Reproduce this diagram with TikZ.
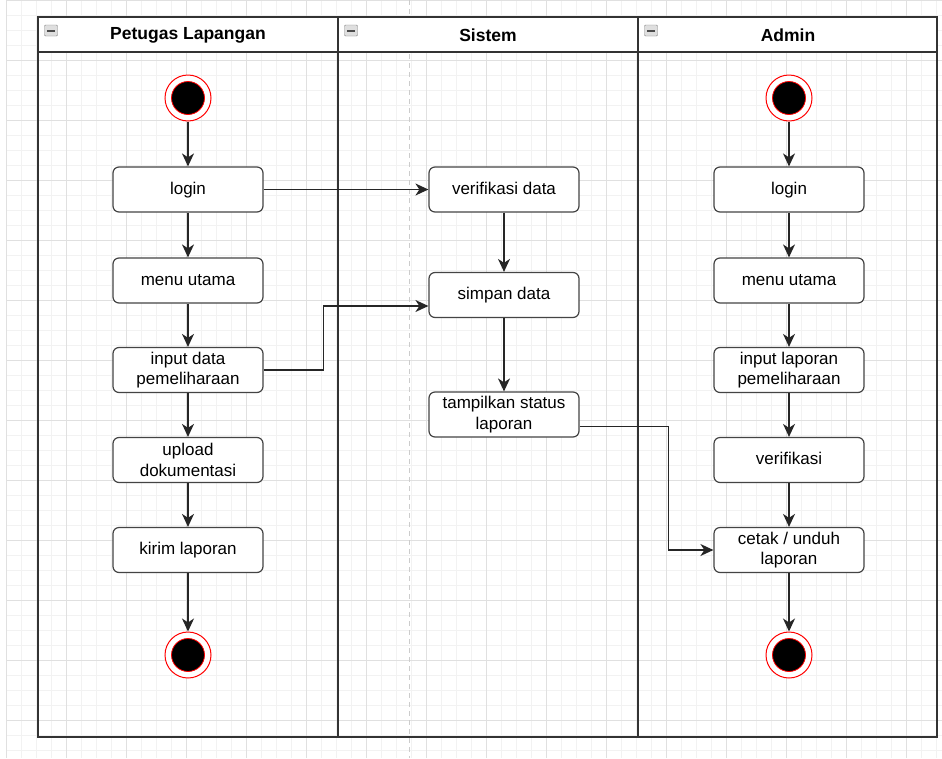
\documentclass[tikz,border=0pt]{standalone}
\usepackage{fontspec}
\setmainfont{Liberation Sans}
\usetikzlibrary{arrows.meta,calc}
\definecolor{gridminor}{HTML}{F2F2F2}
\definecolor{gridmajor}{HTML}{E0E0E0}
\definecolor{lanecol}{HTML}{333333}
\definecolor{boxcol}{HTML}{444444}
\begin{document}
\begin{tikzpicture}[x=1pt,y=-1pt,
  act/.style={draw=boxcol, line width=1.2pt, rounded corners=6pt, fill=white,
    minimum width=150pt, minimum height=45pt, align=center, inner sep=0pt,
    font=\fontsize{17}{20.5}\selectfont},
  one/.style={text height=12.5pt, text depth=3.5pt},
  arr/.style={draw=black!85, line width=1.3pt, -{Stealth[length=13pt,width=12pt,inset=4pt]}},
  ring/.style={circle, draw=red, line width=1pt, fill=white, minimum size=46pt, inner sep=0pt},
  dot/.style={circle, draw=red, line width=0.8pt, fill=black, minimum size=33pt, inner sep=0pt},
  lanetitle/.style={font=\fontsize{17.5}{20}\selectfont\bfseries},
  minusbox/.style={draw=gray, fill=gray!25, minimum width=13pt, minimum height=11pt, inner sep=0pt, rounded corners=1pt}
]
\useasboundingbox (0,0) rectangle (942,758);
\fill[white] (0,0) rectangle (942,758);
% grid
\foreach \i in {0,...,62} \draw[gridminor, line width=0.8pt] ({6+15*\i},0) -- ({6+15*\i},758);
\foreach \j in {0,...,50} \draw[gridminor, line width=0.8pt] (6,{15*\j}) -- (942,{15*\j});
\foreach \i in {0,...,15} \draw[gridmajor, line width=0.8pt] ({6+60*\i},0) -- ({6+60*\i},758);
\foreach \j in {0,...,12} \draw[gridmajor, line width=0.8pt] (6,{60*\j}) -- (942,{60*\j});
% page break line
\draw[gray!40, line width=1pt, dash pattern=on 5pt off 4pt] (409,0) -- (409,758);
% lanes
\fill[white] (38,17) rectangle (937,52);
\draw[lanecol, line width=1.8pt] (38,17) rectangle (937,737);
\draw[lanecol, line width=1.8pt] (38,52) -- (937,52);
\draw[lanecol, line width=1.8pt] (338,17) -- (338,737);
\draw[lanecol, line width=1.8pt] (638,17) -- (638,737);
\node[lanetitle] (t1) at (188,35) {Petugas Lapangan};
\node[lanetitle] (t2) at (488,35) {Sistem};
\node[lanetitle] (t3) at (788,35) {Admin};
\foreach \xx/\nm in {51/m1,351/m2,651/m3}{
  \node[minusbox] (\nm) at (\xx,30.5) {};
  \draw[black!70, line width=2pt] ($(\nm.center)+(-4,0)$) -- ($(\nm.center)+(4,0)$);
}
% Petugas Lapangan
\node[ring] (s1) at (188,98) {};
\node[dot] (s1d) at (s1) {};
\node[act,one] (p1) at (188,189.5) {login};
\node[act,one] (p2) at (188,280.5) {menu utama};
\node[act] (p3) at (188,370) {input data\\pemeliharaan};
\node[act] (p4) at (188,460) {upload\\dokumentasi};
\node[act,one] (p5) at (188,550) {kirim laporan};
\node[ring] (e1) at (188,655) {};
\node[dot] (e1d) at (e1) {};
% Sistem
\node[act,one] (q1) at (504,189.5) {verifikasi data};
\node[act,one] (q2) at (504,295) {simpan data};
\node[act] (q3) at (504,414.5) {tampilkan status\\laporan};
% Admin
\node[ring] (s3) at (789,98) {};
\node[dot] (s3d) at (s3) {};
\node[act,one] (a1) at (789,189.5) {login};
\node[act,one] (a2) at (789,280.5) {menu utama};
\node[act] (a3) at (789,370) {input laporan\\pemeliharaan};
\node[act,one] (a4) at (789,460) {verifikasi};
\node[act] (a5) at (789,550) {cetak / unduh\\laporan};
\node[ring] (e3) at (789,655) {};
\node[dot] (e3d) at (e3) {};
% flows lane 1
\draw[arr] (s1) -- (p1);
\draw[arr] (p1) -- (p2);
\draw[arr] (p2) -- (p3);
\draw[arr] (p3) -- (p4);
\draw[arr] (p4) -- (p5);
\draw[arr] (p5) -- (e1);
% sistem
\draw[arr] (q1) -- (q2);
\draw[arr] (q2) -- (q3);
% admin
\draw[arr] (s3) -- (a1);
\draw[arr] (a1) -- (a2);
\draw[arr] (a2) -- (a3);
\draw[arr] (a3) -- (a4);
\draw[arr] (a4) -- (a5);
\draw[arr] (a5) -- (e3);
% cross-lane
\draw[arr] (p1) -- (q1);
\coordinate (qin) at ($(q2.west)+(0,11)$);
\draw[arr] (p3.east) -- ++(60,0) |- (qin);
\coordinate (qout) at ($(q3.east)+(0,12)$);
\draw[arr] (qout) -- ++(89,0) |- (a5.west);
\end{tikzpicture}
\end{document}
